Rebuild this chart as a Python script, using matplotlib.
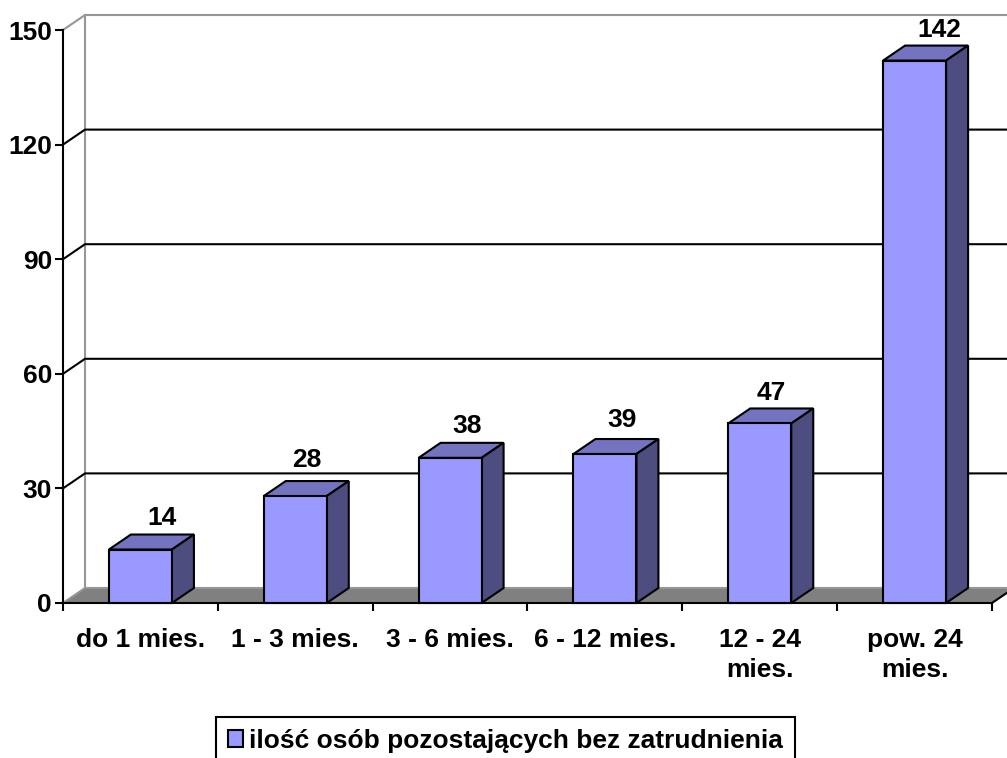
# Wykres słupkowy 3D: ilość osób pozostających bez zatrudnienia
import matplotlib
matplotlib.use("Agg")
import matplotlib.pyplot as plt
from matplotlib.patches import Patch, Polygon

plt.rcParams["font.family"] = ["Liberation Sans", "DejaVu Sans"]
plt.rcParams["font.weight"] = "bold"

CATEGORIES = ["do 1 mies.", "1 - 3 mies.", "3 - 6 mies.", "6 - 12 mies.",
              "12 - 24\nmies.", "pow. 24\nmies."]
VALUES = [14, 28, 38, 39, 47, 142]
Y_TICKS = [0, 30, 60, 90, 120, 150]
LEGEND_LABEL = "ilość osób pozostających bez zatrudnienia"

FRONT = "#9999FF"
TOP = "#7373BF"
SIDE = "#4D4D80"
FLOOR = "#808080"
WALL = "#969696"

W, H = 1007, 758
LEFT, RIGHT, BOTTOM, TOP_PX = 63, 992, 603, 30

# głębokość 3D w jednostkach danych
DX = 22 / 154.8
DY = 15 / 3.82
BAR_W = 0.407
LABEL_DX = [22, 12, 17, 17, 12, 25]
LABEL_DY = [32, 36, 32, 34, 30, 31]
LW = 1.5
FS = 19


def draw_walls(ax):
    x0, x1 = -0.5, 5.5
    ax.add_patch(Polygon([(x0, 0), (x0 + DX, DY), (x1 + DX, DY), (x1, 0)],
                         closed=True, facecolor=FLOOR, edgecolor="none",
                         clip_on=False, zorder=1))
    ax.plot([x0 + DX, x1 + DX], [DY, DY], color=WALL, lw=LW, clip_on=False, zorder=1.2)
    ax.plot([x0, x0 + DX], [0, DY], color=WALL, lw=LW, clip_on=False, zorder=1.2)
    ax.plot([x1, x1 + DX], [0, DY], color="black", lw=LW, clip_on=False, zorder=1.2)
    ax.plot([x0, x0 + DX, x0 + DX], [150, 150 + DY, DY], color=WALL, lw=LW,
            clip_on=False, zorder=1.5)
    ax.plot([x0 + DX, x1 + DX], [150 + DY, 150 + DY], color=WALL, lw=LW,
            clip_on=False, zorder=1.5)
    for y in Y_TICKS[1:-1]:
        ax.plot([x0, x0 + DX, x1 + DX], [y, y + DY, y + DY], color="black", lw=LW,
                clip_on=False, zorder=2)


def draw_bars(ax):
    xs = list(range(len(VALUES)))
    ax.bar(xs, VALUES, width=BAR_W, color=FRONT, edgecolor="black", linewidth=LW,
           zorder=4, clip_on=False)
    for x, v, off, up in zip(xs, VALUES, LABEL_DX, LABEL_DY):
        l, r = x - BAR_W / 2, x + BAR_W / 2
        ax.add_patch(Polygon([(l, v), (l + DX, v + DY), (r + DX, v + DY), (r, v)],
                             closed=True, facecolor=TOP, edgecolor="black", lw=LW,
                             clip_on=False, zorder=3))
        ax.add_patch(Polygon([(r, 0), (r + DX, DY), (r + DX, v + DY), (r, v)],
                             closed=True, facecolor=SIDE, edgecolor="black", lw=LW,
                             clip_on=False, zorder=3))
        ax.annotate(str(v), (x, v), xytext=(off, up), textcoords="offset pixels",
                    ha="center", va="center", fontsize=FS, fontweight="bold",
                    annotation_clip=False, zorder=5)


def main():
    fig = plt.figure(figsize=(W / 100, H / 100), dpi=100)
    ax = fig.add_axes([LEFT / W, (H - BOTTOM) / H, (RIGHT - LEFT) / W, (BOTTOM - TOP_PX) / H])
    ax.patch.set_visible(False)
    ax.set_xlim(-0.5, 5.5)
    ax.set_ylim(0, 150)

    draw_walls(ax)
    draw_bars(ax)

    for side in ("top", "right"):
        ax.spines[side].set_visible(False)
    for side in ("left", "bottom"):
        ax.spines[side].set_linewidth(LW)
        ax.spines[side].set_zorder(6)

    ax.set_yticks(Y_TICKS)
    ax.tick_params(axis="y", length=6, width=LW, labelsize=FS, pad=2)
    ax.set_xticks([i - 0.5 for i in range(len(VALUES) + 1)])
    ax.set_xticklabels([])
    ax.set_xticks(range(len(VALUES)), CATEGORIES, minor=True, linespacing=1.3)
    ax.tick_params(axis="x", which="major", length=6, width=LW)
    ax.tick_params(axis="x", which="minor", length=0, labelsize=FS, pad=18)

    handle = Patch(facecolor=FRONT, edgecolor="black", linewidth=LW)
    fig.legend(handles=[handle], labels=[LEGEND_LABEL], loc="upper left",
               bbox_to_anchor=(216 / W, 1 - 717 / H), bbox_transform=fig.transFigure,
               fontsize=FS, fancybox=False, framealpha=1, edgecolor="black",
               borderaxespad=0, borderpad=0.45, handlelength=0.57, handleheight=0.57,
               handletextpad=0.23).get_frame().set_linewidth(LW)

    fig.savefig("out.png", dpi=100)


if __name__ == "__main__":
    main()
